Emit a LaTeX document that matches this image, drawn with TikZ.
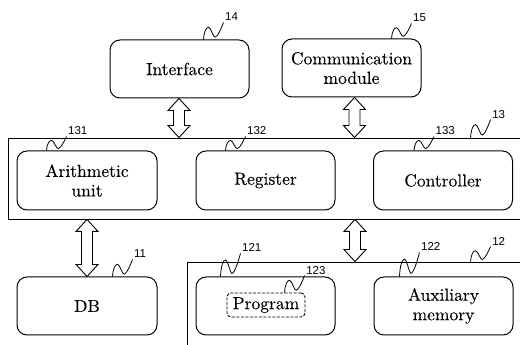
\documentclass[tikz,border=0pt]{standalone}
\usepackage{fontspec}
\newfontfamily\serifft{lmroman10-regular}[Extension=.otf,FakeBold=0.15]
\newfontfamily\numfont{Liberation Sans}
\usetikzlibrary{calc}
\tikzset{
  box/.style={draw, line width=1pt, rounded corners=10pt, minimum width=139pt,
    minimum height=58pt, align=center, inner sep=0pt,
    font=\serifft\fontsize{17.5}{19.5}\selectfont},
  framebox/.style={draw, line width=0.9pt, inner sep=0pt},
  dashbox/.style={draw, line width=0.9pt, dash pattern=on 3pt off 1.5pt,
    rounded corners=4pt, minimum width=78pt, minimum height=24pt, inner sep=0pt,
    font=\serifft\fontsize{17.5}{19.5}\selectfont},
  lead/.style={line width=0.8pt},
  num/.style={font=\numfont\fontsize{11.5}{12}\selectfont, inner sep=0pt, anchor=base west},
  arr/.style={draw, line width=0.9pt, fill=white, line join=miter},
}
% #1 start point, #2 text, #3 name, #4 height
\newcommand\lbl[4]{%
  \draw[lead] (#1) .. controls +(0.5,{0.45*#4}) and +(-2.5,0) .. ++(5,{0.72*#4})
    .. controls +(2.5,0) and +(-2,{-0.1*#4}) .. ++(7,{-0.58*#4})
    .. controls +(3,{0.1*#4}) and +(-2,{-0.3*#4}) .. ++(8,{0.86*#4}) coordinate (#3e);
  \node[num] (#3) at ($(#3e)+(1.5,1.5)$) {#2};}
% #1 top point, #2 bottom point
\newcommand\dblarrow[2]{%
  \path[arr] let \p1=(#1), \p2=(#2) in
   (\x1,\y1) -- (\x1+11pt,\y1-12pt) -- (\x1+5.5pt,\y1-12pt) -- (\x1+5.5pt,\y2+12pt)
   -- (\x1+11pt,\y2+12pt) -- (\x1,\y2) -- (\x1-11pt,\y2+12pt) -- (\x1-5.5pt,\y2+12pt)
   -- (\x1-5.5pt,\y1-12pt) -- (\x1-11pt,\y1-12pt) -- cycle;}
\begin{document}
\begin{tikzpicture}[x=1pt,y=1pt]
\useasboundingbox (0,0) rectangle (520,345);
\clip (0,0) rectangle (520,345);
\fill[white] (0,0) rectangle (520,345);

% top boxes
\node[box] (iface) at (179.5,276) {Interface};
\node[box] (comm) at (351.5,277) {Communication\\module};

% processor frame
\node[framebox, minimum width=522pt, minimum height=81pt] (outer) at (269,166.5) {};
\node[box, minimum width=140pt, minimum height=59pt] (arith) at (87,164.5) {Arithmetic\\unit};
\node[box, minimum height=59pt] (reg) at (265.5,164.5) {Register};
\node[box, minimum height=59pt] (ctrl) at (443,164.5) {Controller};

% bottom
\node[box, minimum width=140pt] (db) at (87,39) {DB};
\node[framebox, minimum width=343pt, minimum height=93pt] (mem) at (358.5,36.5) {};
\node[box] (prog) at (265.5,39) {};
\node[dashbox] (progd) at (266,40) {Program};
\node[box] (aux) at (443.5,39) {Auxiliary\\memory};

% double arrows
\coordinate (xa) at (179,0);
\coordinate (xb) at (354.5,0);
\coordinate (xc) at (87,0);
\coordinate (xd) at (355,0);
\dblarrow{iface.south -| xa}{outer.north -| xa}
\dblarrow{comm.south -| xb}{outer.north -| xb}
\dblarrow{outer.south -| xc}{db.north -| xc}
\dblarrow{outer.south -| xd}{mem.north -| xd}

% reference labels
\lbl{$(iface.north west)+(94,0)$}{14}{l14}{17}
\lbl{$(comm.north west)+(110,0)$}{15}{l15}{15}
\lbl{$(outer.north west)+(463,0)$}{13}{l13}{18}
\lbl{$(arith.north west)+(30,0)$}{131}{l131}{14}
\lbl{$(reg.north west)+(30,0)$}{132}{l132}{14}
\lbl{$(ctrl.north west)+(41,0)$}{133}{l133}{14}
\lbl{$(db.north west)+(96,0)$}{11}{l11}{17}
\lbl{$(prog.north west)+(25,0)$}{121}{l121}{23}
\lbl{$(aux.north west)+(26,0)$}{122}{l122}{24}
\lbl{$(mem.north west)+(284,0)$}{12}{l12}{15}
\lbl{$(progd.north west)+(58,0)$}{123}{l123}{17}
\end{tikzpicture}
\end{document}
